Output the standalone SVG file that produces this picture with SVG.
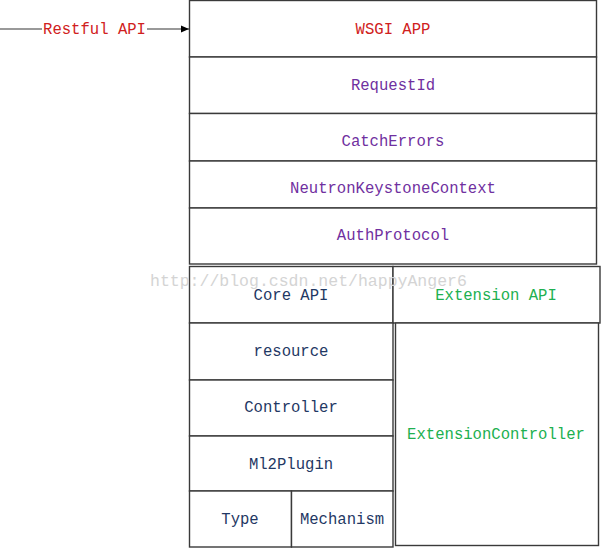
<svg xmlns="http://www.w3.org/2000/svg" width="601" height="548" viewBox="0 0 601 548">
<defs>
<style>
.box{fill:#fff;stroke:#3a3a3a;stroke-width:1.4}
text{font-family:"Liberation Mono","DejaVu Sans Mono",monospace;font-size:15.6px;text-anchor:middle}
.red{fill:#d02020}
.pur{fill:#7030a0}
.navy{fill:#1f3864}
.grn{fill:#20b050}
.wm{fill:#d4d4d4;font-size:16.5px;text-anchor:start}
</style>
<marker id="arr" markerWidth="8" markerHeight="8" refX="8" refY="4" orient="auto" markerUnits="userSpaceOnUse">
<path d="M0,0.5 L8,4 L0,7.5 Z" fill="#000"/>
</marker>
</defs>
<rect width="601" height="548" fill="#fff"/>
<g id="connectors">
<line x1="0" y1="29" x2="42" y2="29" stroke="#777" stroke-width="1.3"/>
<line x1="147" y1="29" x2="189" y2="29" stroke="#777" stroke-width="1.3" marker-end="url(#arr)"/>
</g>
<g id="restful"><text class="red" x="94.5" y="34">Restful API</text></g>
<g id="wsgi"><rect class="box" x="189.5" y="0.5" width="407" height="56.5"/><text class="red" x="393" y="34">WSGI APP</text></g>
<g id="requestid"><rect class="box" x="189.5" y="57" width="407" height="56.5"/><text class="pur" x="393" y="90">RequestId</text></g>
<g id="catcherrors"><rect class="box" x="189.5" y="113.5" width="407" height="47.5"/><text class="pur" x="393" y="146">CatchErrors</text></g>
<g id="nkc"><rect class="box" x="189.5" y="161" width="407" height="47"/><text class="pur" x="393" y="193">NeutronKeystoneContext</text></g>
<g id="auth"><rect class="box" x="189.5" y="208" width="407" height="56"/><text class="pur" x="393" y="240">AuthProtocol</text></g>
<g id="coreapi"><rect class="box" x="189.5" y="266.5" width="203.5" height="56.5"/><text class="navy" x="291" y="300">Core API</text></g>
<g id="extapi"><rect class="box" x="393" y="266.5" width="207" height="56.5"/><text class="grn" x="496" y="300">Extension API</text></g>
<g id="resource"><rect class="box" x="189.5" y="323" width="203.5" height="57"/><text class="navy" x="291" y="356">resource</text></g>
<g id="controller"><rect class="box" x="189.5" y="380" width="203.5" height="56"/><text class="navy" x="291" y="412">Controller</text></g>
<g id="ml2plugin"><rect class="box" x="189.5" y="436" width="203.5" height="55"/><text class="navy" x="291" y="469">Ml2Plugin</text></g>
<g id="type"><rect class="box" x="189.5" y="491" width="102" height="56"/><text class="navy" x="240" y="524">Type</text></g>
<g id="mechanism"><rect class="box" x="291.5" y="491" width="101.5" height="56"/><text class="navy" x="342" y="524">Mechanism</text></g>
<g id="extcontroller"><rect class="box" x="395.5" y="323" width="203" height="222.5"/><text class="grn" x="496" y="439">ExtensionController</text></g>
<text class="wm" x="150" y="286">http://blog.csdn.net/happyAnger6</text>
</svg>
